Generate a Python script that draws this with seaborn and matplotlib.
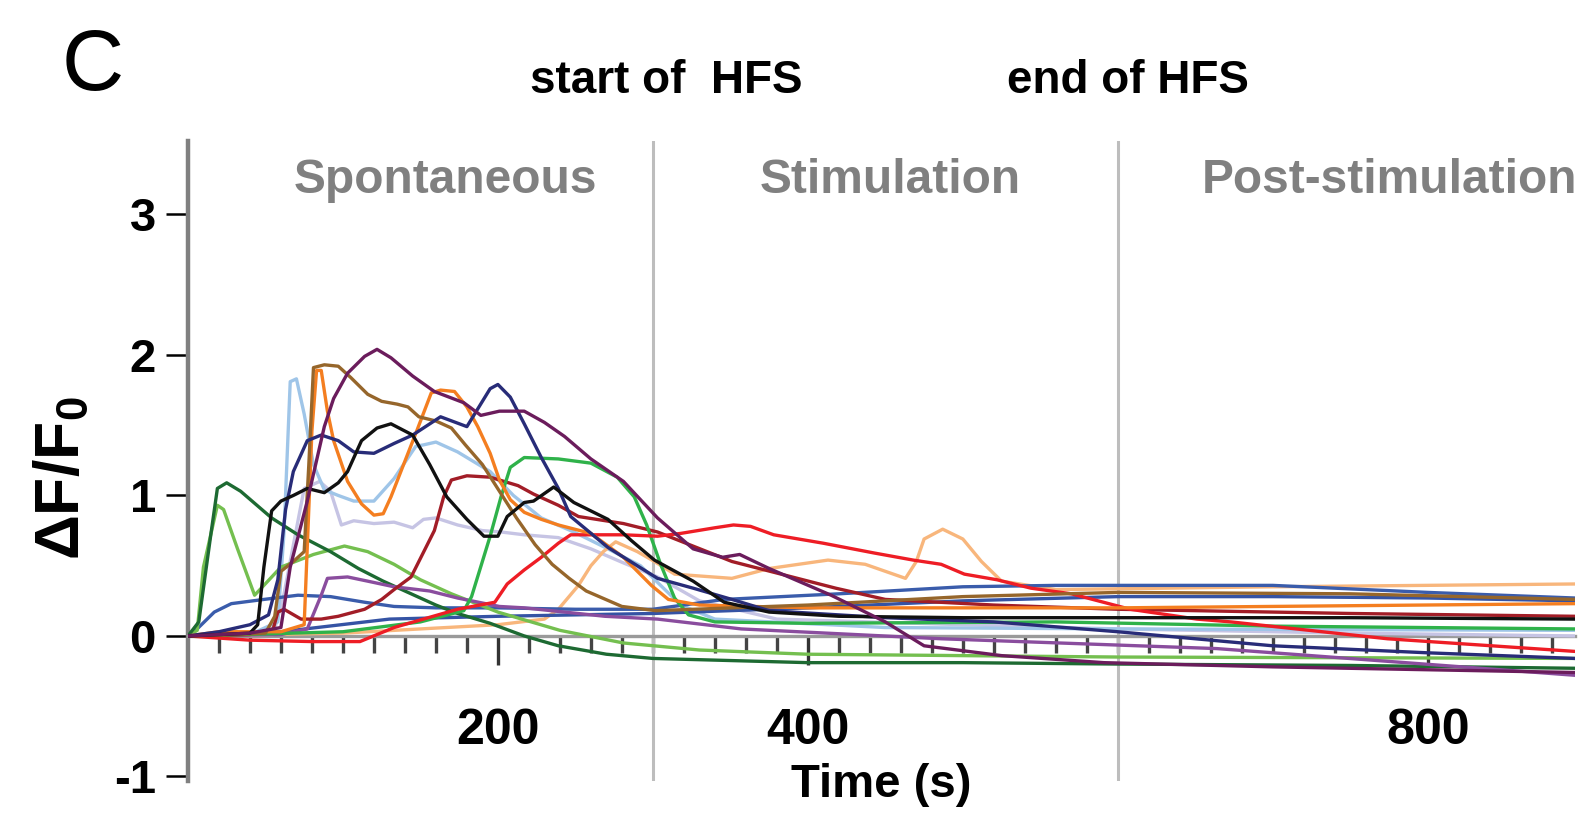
import numpy as np
import pandas as pd
import matplotlib
matplotlib.use("Agg")
import matplotlib.pyplot as plt
import seaborn as sns

# ---------------- data ----------------
dkgreen_t = [0, 7, 15, 19, 25, 34, 54, 71, 92, 110, 126, 160, 174, 195, 217, 239, 270, 300, 400, 500, 600, 750, 895]
dkgreen_v = [0, 0.1, 0.74, 1.05, 1.09, 1.03, 0.84, 0.72, 0.6, 0.48, 0.39, 0.22, 0.16, 0.09, 0.0, -0.07, -0.13, -0.16, -0.19, -0.19, -0.2, -0.21, -0.23]

ltgreen_t = [0, 6, 10, 19, 23, 32, 43, 49, 60, 81, 101, 116, 133, 150, 170, 200, 240, 281, 330, 400, 600, 895]
ltgreen_v = [0, 0.04, 0.49, 0.93, 0.9, 0.62, 0.29, 0.36, 0.49, 0.58, 0.64, 0.6, 0.51, 0.4, 0.3, 0.17, 0.04, -0.05, -0.1, -0.13, -0.15, -0.16]

black_t = [0, 20, 40, 45, 49, 54, 60, 68, 77, 88, 97, 103, 112, 122, 131, 145, 156, 167, 180, 191, 200, 206, 217, 223, 236, 249, 271, 286, 301, 326, 346, 375, 420, 500, 600, 750, 895]
black_v = [0, 0.01, 0.02, 0.08, 0.49, 0.89, 0.96, 1.0, 1.05, 1.02, 1.09, 1.17, 1.39, 1.48, 1.51, 1.43, 1.22, 0.99, 0.83, 0.71, 0.71, 0.85, 0.95, 0.96, 1.06, 0.95, 0.83, 0.68, 0.54, 0.39, 0.24, 0.17, 0.14, 0.13, 0.13, 0.13, 0.12]

navy_t = [0, 20, 40, 52, 58, 63, 68, 77, 86, 97, 107, 120, 133, 145, 163, 180, 195, 200, 208, 217, 228, 239, 247, 271, 303, 326, 351, 375, 450, 520, 600, 700, 800, 895]
navy_v = [0, 0.03, 0.08, 0.15, 0.4, 0.9, 1.17, 1.39, 1.43, 1.39, 1.31, 1.3, 1.37, 1.43, 1.56, 1.49, 1.76, 1.79, 1.7, 1.51, 1.27, 1.05, 0.85, 0.63, 0.41, 0.34, 0.26, 0.18, 0.13, 0.1, 0.03, -0.07, -0.12, -0.16]

blue1_t = [0, 5, 17, 28, 49, 71, 92, 114, 133, 160, 200, 250, 300, 346, 420, 500, 560, 700, 800, 895]
blue1_v = [0, 0.04, 0.17, 0.23, 0.26, 0.29, 0.28, 0.24, 0.21, 0.2, 0.2, 0.19, 0.19, 0.26, 0.3, 0.35, 0.36, 0.36, 0.31, 0.27]

blue2_t = [0, 60, 130, 200, 300, 400, 500, 600, 700, 800, 895]
blue2_v = [0, 0.03, 0.12, 0.14, 0.16, 0.2, 0.25, 0.28, 0.28, 0.27, 0.25]

ltblue_t = [0, 40, 58, 62, 66, 70, 75, 81, 88, 97, 107, 120, 133, 147, 152, 160, 174, 195, 210, 228, 249, 271, 292, 318, 340, 450, 600, 895]
ltblue_v = [0, 0.01, 0.1, 0.74, 1.81, 1.83, 1.58, 1.22, 1.04, 1.0, 0.96, 0.96, 1.12, 1.35, 1.36, 1.38, 1.31, 1.17, 1.0, 0.84, 0.74, 0.62, 0.5, 0.22, 0.12, 0.06, 0.05, 0.04]

orange_t = [0, 20, 60, 75, 80, 83, 86, 90, 94, 103, 112, 120, 126, 131, 148, 157, 163, 172, 180, 187, 195, 201, 208, 217, 228, 239, 260, 281, 299, 310, 330, 400, 600, 895]
orange_v = [0, 0.03, 0.03, 0.08, 1.46, 1.89, 1.89, 1.6, 1.39, 1.1, 0.94, 0.86, 0.87, 0.99, 1.47, 1.73, 1.75, 1.74, 1.63, 1.49, 1.3, 1.11, 0.97, 0.88, 0.83, 0.79, 0.73, 0.56, 0.36, 0.26, 0.22, 0.2, 0.2, 0.23]

brown_t = [0, 30, 50, 56, 60, 68, 75, 78, 81, 88, 97, 105, 116, 125, 135, 142, 149, 160, 170, 179, 190, 201, 212, 224, 235, 246, 257, 280, 302, 400, 500, 600, 750, 895]
brown_v = [0, 0.01, 0.02, 0.14, 0.46, 0.53, 0.6, 1.22, 1.91, 1.93, 1.92, 1.84, 1.72, 1.67, 1.65, 1.63, 1.56, 1.53, 1.48, 1.36, 1.22, 1.03, 0.84, 0.65, 0.51, 0.41, 0.32, 0.21, 0.18, 0.22, 0.28, 0.31, 0.3, 0.26]

plum_t = [0, 40, 60, 66, 77, 88, 94, 103, 114, 122, 131, 145, 159, 178, 189, 201, 217, 230, 243, 260, 281, 303, 326, 345, 356, 375, 415, 450, 475, 525, 591, 700, 895]
plum_v = [0, 0.02, 0.06, 0.49, 0.96, 1.49, 1.69, 1.87, 1.99, 2.04, 1.98, 1.85, 1.74, 1.66, 1.57, 1.6, 1.6, 1.52, 1.42, 1.26, 1.1, 0.84, 0.62, 0.56, 0.58, 0.48, 0.29, 0.1, -0.07, -0.14, -0.19, -0.22, -0.26]

lavender_t = [0, 55, 62, 75, 85, 92, 99, 107, 120, 133, 145, 152, 160, 174, 190, 202, 217, 239, 260, 281, 303, 330, 380, 500, 600, 750, 895]
lavender_v = [0, 0.01, 0.3, 1.05, 1.1, 1.03, 0.79, 0.82, 0.8, 0.81, 0.77, 0.83, 0.84, 0.79, 0.75, 0.74, 0.72, 0.7, 0.62, 0.52, 0.42, 0.25, 0.12, 0.08, 0.05, 0.02, 0.0]

maroon_t = [0, 40, 55, 58, 62, 73, 86, 97, 114, 125, 133, 144, 159, 165, 170, 180, 195, 213, 223, 239, 252, 281, 303, 351, 418, 450, 520, 600, 750, 895]
maroon_v = [0, 0.01, 0.05, 0.17, 0.19, 0.12, 0.12, 0.14, 0.19, 0.26, 0.33, 0.42, 0.75, 0.99, 1.11, 1.14, 1.13, 1.07, 1.01, 0.93, 0.85, 0.8, 0.74, 0.53, 0.34, 0.26, 0.22, 0.19, 0.16, 0.14]

green_t = [0, 100, 150, 178, 183, 195, 202, 208, 217, 239, 260, 277, 288, 296, 305, 314, 323, 340, 400, 560, 700, 895]
green_v = [0, 0.03, 0.1, 0.18, 0.28, 0.71, 0.99, 1.2, 1.27, 1.26, 1.23, 1.13, 0.99, 0.79, 0.51, 0.27, 0.15, 0.1, 0.09, 0.1, 0.07, 0.05]

red_t = [0, 40, 80, 111, 133, 174, 198, 206, 217, 228, 239, 247, 281, 303, 318, 340, 352, 363, 378, 410, 443, 468, 486, 501, 522, 544, 570, 608, 651, 673, 774, 895]
red_v = [0, -0.03, -0.04, -0.04, 0.06, 0.19, 0.24, 0.37, 0.47, 0.56, 0.66, 0.72, 0.72, 0.71, 0.73, 0.77, 0.79, 0.78, 0.72, 0.66, 0.59, 0.54, 0.51, 0.44, 0.4, 0.34, 0.3, 0.19, 0.12, 0.1, -0.02, -0.11]

peach_t = [0, 100, 200, 230, 239, 252, 260, 268, 276, 290, 301, 314, 351, 375, 413, 437, 463, 470, 475, 487, 500, 512, 525, 560, 700, 895]
peach_v = [0, 0.02, 0.08, 0.12, 0.19, 0.36, 0.5, 0.6, 0.67, 0.6, 0.53, 0.44, 0.41, 0.48, 0.54, 0.51, 0.41, 0.53, 0.69, 0.76, 0.69, 0.53, 0.39, 0.33, 0.35, 0.37]

purple_t = [0, 60, 77, 86, 90, 103, 116, 133, 156, 174, 201, 217, 269, 303, 357, 486, 664, 895]
purple_v = [0, 0.01, 0.05, 0.29, 0.41, 0.42, 0.39, 0.35, 0.32, 0.27, 0.21, 0.2, 0.14, 0.12, 0.05, -0.02, -0.09, -0.28]

trace_names = ["lavender", "ltblue", "peach", "blue2", "blue1", "ltgreen", "dkgreen", "purple",
               "maroon", "green", "red", "orange", "brown", "navy", "black", "plum"]
trace_data = {
    "lavender": (lavender_t, lavender_v), "ltblue": (ltblue_t, ltblue_v),
    "peach": (peach_t, peach_v), "blue2": (blue2_t, blue2_v), "blue1": (blue1_t, blue1_v),
    "ltgreen": (ltgreen_t, ltgreen_v), "dkgreen": (dkgreen_t, dkgreen_v),
    "purple": (purple_t, purple_v), "maroon": (maroon_t, maroon_v), "green": (green_t, green_v),
    "red": (red_t, red_v), "orange": (orange_t, orange_v), "brown": (brown_t, brown_v),
    "navy": (navy_t, navy_v), "black": (black_t, black_v), "plum": (plum_t, plum_v),
}
palette = {
    "lavender": "#c6c4e4", "ltblue": "#9fc5e8", "peach": "#f8b67c", "blue2": "#3553a4",
    "blue1": "#3a5cab", "ltgreen": "#74bf4f", "dkgreen": "#1d6a32", "purple": "#8a4d9e",
    "maroon": "#a21d27", "green": "#2fb24a", "red": "#ee1d25", "orange": "#f47e20",
    "brown": "#96662b", "navy": "#282c78", "black": "#111111", "plum": "#6b1c5c",
}

ytick_vals = [-1, 0, 1, 2, 3]
ytick_labels = ["-1", "0", "1", "2", "3"]
xtick_vals = [200, 400, 800]
xtick_labels = ["200", "400", "800"]
hfs_times = [300, 600]
phase_labels = ["Spontaneous", "Stimulation", "Post-stimulation"]
phase_centers = [166, 453, 775]

rows = []
for name in trace_names:
    ts, vs = trace_data[name]
    for t, v in zip(ts, vs):
        rows.append((name, t, v))
df = pd.DataFrame(rows, columns=["trace", "time", "dff"])

# ---------------- style ----------------
sns.set_theme(style="white")
plt.rcParams["font.family"] = ["Liberation Sans", "DejaVu Sans"]
plt.rcParams["text.color"] = "black"
plt.rcParams["axes.labelcolor"] = "black"
plt.rcParams["xtick.color"] = "black"
plt.rcParams["ytick.color"] = "black"
plt.rcParams["axes.unicode_minus"] = False
plt.rcParams["mathtext.fontset"] = "custom"
plt.rcParams["mathtext.rm"] = "Liberation Sans"
plt.rcParams["mathtext.bf"] = "Liberation Sans:bold"
plt.rcParams["mathtext.it"] = "Liberation Sans:italic"

fig = plt.figure(figsize=(15.78, 8.16), dpi=100)
ax = fig.add_axes([0.1191, 0.0433, 0.879, 0.7834])

for xv in hfs_times:
    ax.axvline(xv, color="#bdbdbd", lw=2.2, zorder=1)

sns.lineplot(data=df, x="time", y="dff", hue="trace", hue_order=trace_names,
             palette=palette, estimator=None, sort=False, legend=False,
             linewidth=2.4, ax=ax, zorder=3)

ax.set_xlim(0, 895)
ax.set_ylim(-1.03, 3.52)

for s in ["top", "right"]:
    ax.spines[s].set_visible(False)
ax.spines["left"].set_color("#808080")
ax.spines["left"].set_linewidth(3.2)
ax.spines["bottom"].set_position(("data", 0))
ax.spines["bottom"].set_color("#9a9a9a")
ax.spines["bottom"].set_linewidth(2.4)

ax.set_yticks(ytick_vals)
ax.set_yticklabels(ytick_labels, fontsize=34, fontweight="bold")
ax.tick_params(axis="y", which="major", direction="out", length=16, width=1.8,
               color="black", labelcolor="black", pad=7, left=True)

ax.set_xticks(xtick_vals)
ax.set_xticklabels(xtick_labels, fontsize=36, fontweight="bold")
minor_x = [m for m in range(20, 895, 20) if m not in xtick_vals]
ax.set_xticks(minor_x, minor=True)
ax.tick_params(axis="x", which="major", direction="out", length=21, width=2.4,
               color="#333333", labelcolor="black", pad=31, bottom=True)
ax.tick_params(axis="x", which="minor", direction="out", length=12, width=2.4,
               color="#444444", bottom=True)

ax.set_xlabel("Time (s)", fontsize=34, fontweight="bold", va="top")
ax.xaxis.set_label_coords(0.5, 0.028)
ax.set_ylabel(r"$\mathbf{\Delta F/F_0}$", fontsize=45)
ax.yaxis.set_label_coords(-0.069, 0.4735)

for lab, xc in zip(phase_labels, phase_centers):
    ax.text(xc, 3.15, lab, ha="center", va="baseline", fontsize=34.5,
            fontweight="bold", color="#808080", clip_on=False)

fig.text(0.0393, 0.890, "C", fontsize=62, family=["Liberation Sans Narrow", "Liberation Sans"],
         ha="left", va="baseline")
fig.text(666 / 1578, 0.886, "start of  HFS", fontsize=33, fontweight="bold",
         ha="center", va="baseline")
fig.text(1128 / 1578, 0.886, "end of HFS", fontsize=33, fontweight="bold",
         ha="center", va="baseline")

fig.savefig("out.png", dpi=100)
